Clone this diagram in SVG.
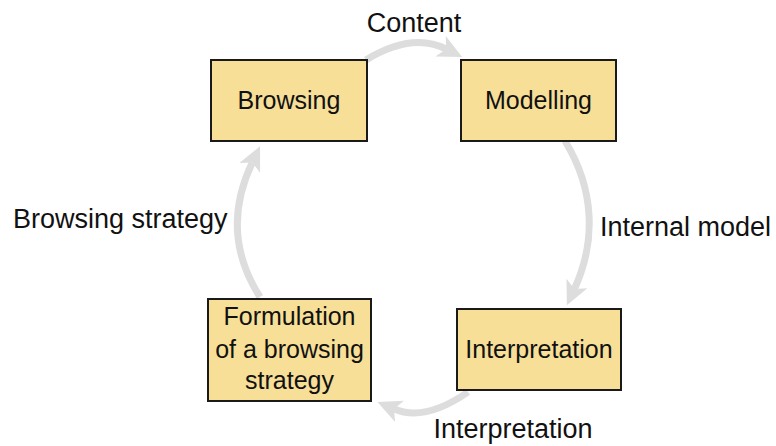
<svg xmlns="http://www.w3.org/2000/svg" width="776" height="446" viewBox="0 0 776 446">
  <style>
    .box { fill: #f7df98; stroke: #1a1a1a; stroke-width: 2; }
    .node-text { font-family: "Liberation Sans", Arial, sans-serif; font-size: 25px; fill: #111; text-anchor: middle; }
    .edge-label { font-family: "Liberation Sans", Arial, sans-serif; font-size: 27px; fill: #111; }
    .flow { fill: none; stroke: #dddddd; stroke-width: 7; marker-end: url(#head); }
  </style>
  <defs>
    <!-- stealth-style head; the stroke ends at the notch (origin) -->
    <marker id="head" markerUnits="userSpaceOnUse" markerWidth="40" markerHeight="40" refX="0" refY="0" orient="auto" overflow="visible">
      <path d="M18,0 L-6,-11.5 L0,0 L-6,11.5 Z" fill="#dddddd"/>
    </marker>
  </defs>

  <g id="connectors">
    <path class="flow" d="M366,60 Q412,32 446,49"/>
    <path class="flow" d="M565,141 C595,190 596,242 574.4,289"/>
    <path class="flow" d="M468,392 Q425,422 394,409"/>
    <path class="flow" d="M260,297 C230,250 232,205 252.3,162.5"/>
  </g>

  <g id="edge-labels">
    <text class="edge-label" x="414" y="32" text-anchor="middle">Content</text>
    <text class="edge-label" x="600" y="236">Internal model</text>
    <text class="edge-label" x="513" y="438" text-anchor="middle">Interpretation</text>
    <text class="edge-label" x="13" y="228">Browsing strategy</text>
  </g>

  <g id="browsing">
    <rect class="box" x="211" y="60" width="156" height="81"/>
    <text class="node-text" x="289" y="109">Browsing</text>
  </g>

  <g id="modelling">
    <rect class="box" x="461" y="60" width="155" height="81"/>
    <text class="node-text" x="538.5" y="109">Modelling</text>
  </g>

  <g id="interpretation">
    <rect class="box" x="457" y="309" width="164" height="81"/>
    <text class="node-text" x="539" y="358">Interpretation</text>
  </g>

  <g id="formulation">
    <rect class="box" x="208" y="299" width="163" height="102"/>
    <text class="node-text" x="289.5" y="325">Formulation</text>
    <text class="node-text" x="289.5" y="358">of a browsing</text>
    <text class="node-text" x="289.5" y="389">strategy</text>
  </g>
</svg>
